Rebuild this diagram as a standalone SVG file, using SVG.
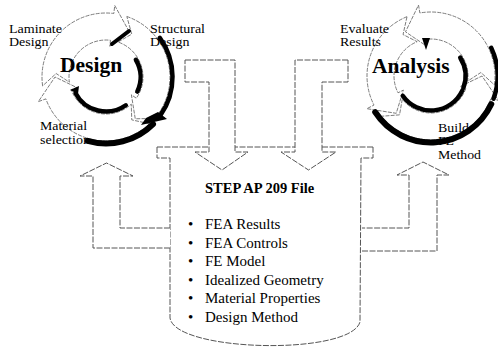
<svg xmlns="http://www.w3.org/2000/svg" width="498" height="349" viewBox="0 0 498 349">
<style>
.ring{fill:#fff;stroke:#666;stroke-width:0.85;stroke-dasharray:4 1.2}
.shade{fill:none;stroke:#000;stroke-linecap:round}
.blk{fill:#000}
.lbl{font-family:"Liberation Serif","Times New Roman",serif;font-size:12px;fill:#000}
.big{font-family:"Liberation Serif","Times New Roman",serif;font-weight:bold;font-size:21.5px;fill:#000}
.conn{fill:#fff;stroke:#555;stroke-width:1;stroke-dasharray:6 1.5}
.cyl{fill:none;stroke:#555;stroke-width:1;stroke-dasharray:6 1.5}
.ttl{font-family:"Liberation Serif","Times New Roman",serif;font-weight:bold;font-size:14.5px;fill:#000}
.item{font-family:"Liberation Serif","Times New Roman",serif;font-size:15px;fill:#000}
</style>
<rect width="498" height="349" fill="#fff"/>

<g id="step-file">
<path class="cyl" d="M157,147 L373,147 M157,147 L157,158 L170,158 L170,318 C175,352 350,356 360,322 L361,158 L373,158 L373,147"/>
<text class="ttl" x="205" y="193">STEP AP 209 File</text>
<g class="item">
<text x="188" y="229">•</text><text x="205" y="229">FEA Results</text>
<text x="188" y="247.5">•</text><text x="205" y="247.5">FEA Controls</text>
<text x="188" y="266">•</text><text x="205" y="266">FE Model</text>
<text x="188" y="284.5">•</text><text x="205" y="284.5">Idealized Geometry</text>
<text x="188" y="303">•</text><text x="205" y="303">Material Properties</text>
<text x="188" y="321.5">•</text><text x="205" y="321.5">Design Method</text>
</g>
</g>

<g id="connectors">
<path class="conn" d="M185,60 L235,60 L235,152 L248,152 L222,170 L195,152 L209,152 L209,82 L185,82 Z"/>
<path class="conn" d="M348,60 L295,60 L295,152 L281,152 L308.5,170 L336,152 L322,152 L322,82 L348,82 Z"/>
<path class="conn" d="M170,248 L93,248 L93,176 L80,176 L106.5,163 L133,176 L120,176 L120,228 L170,228"/>
<path class="conn" d="M362,251 L437,251 L437,175 L449,175 L423,162 L397,175 L409,175 L409,228 L362,228"/>
</g>

<g id="design-cycle">
<path class="ring" d="M149.65,123.81 A64,64 0 0 1 45.86,98.89 L38.34,101.62 L55,77 L76.87,87.60 L71.23,89.65 A37,37 0 0 0 131.23,104.06 L131.75,119.86 Z"/>
<path class="ring" d="M42.62,85.91 A64,64 0 0 1 113.80,13.48 L114.78,5.54 L129.15,31.56 L109.78,46.23 L110.51,40.28 A37,37 0 0 0 69.36,82.15 L56.12,73.51 Z"/>
<path class="ring" d="M126.84,16.49 A64,64 0 0 1 158.43,113.71 L164.98,118.30 L135.25,118.78 L131.40,94.78 L136.31,98.22 A37,37 0 0 0 118.05,42.02 L131.75,34.14 Z"/>
<text class="lbl" x="9" y="32.5" textLength="53" lengthAdjust="spacingAndGlyphs">Laminate</text>
<text class="lbl" x="9" y="46" textLength="39.5" lengthAdjust="spacingAndGlyphs">Design</text>
<text class="lbl" x="150" y="32.5" textLength="55" lengthAdjust="spacingAndGlyphs">Structural</text>
<text class="lbl" x="150" y="46" textLength="39.5" lengthAdjust="spacingAndGlyphs">Design</text>
<text class="lbl" x="40" y="130" textLength="47" lengthAdjust="spacingAndGlyphs">Material</text>
<text class="lbl" x="40" y="143.5" textLength="50" lengthAdjust="spacingAndGlyphs">selection</text>
<path class="shade" stroke-width="4.5" d="M159.80,37.91 A66.5,66.5 0 0 1 160.48,115.14"/>
<path class="shade" stroke-width="6" d="M153.02,124.02 A66.5,66.5 0 0 1 87.67,140.93"/>
<path class="shade" stroke-width="4.5" d="M135.88,59.75 A34.5,34.5 0 0 1 137.27,91.58"/>
<path class="shade" stroke-width="4.5" d="M125.79,105.26 A34.5,34.5 0 0 1 75.54,93.20"/>
<path class="shade" stroke-width="4" d="M112,44 L129,31"/>
<polygon class="blk" points="158,112 167,119 141,125 146,118"/>
<polygon class="blk" points="79,86 70,90 78,94"/>
<text class="big" x="60" y="72">Design</text>
</g>

<g id="analysis-cycle">
<path class="ring" d="M494.38,84.91 A64,64 0 0 0 419.89,12.97 L418.50,5.09 L405.5,31.83 L425.62,45.47 L424.58,39.56 A37,37 0 0 1 467.64,81.15 L480.88,72.51 Z"/>
<path class="ring" d="M407.03,16.66 A64,64 0 0 0 373.98,105.06 L366.85,108.69 L396.22,113.30 L403.38,90.07 L398.03,92.80 A37,37 0 0 1 417.14,41.69 L403.04,34.55 Z"/>
<path class="ring" d="M381.27,116.28 A64,64 0 0 0 491.14,97.89 L498.66,100.62 L482,76 L460.13,86.60 L465.77,88.65 A37,37 0 0 1 402.25,99.28 L399.53,114.86 Z"/>
<text class="lbl" x="340" y="32.5" textLength="49" lengthAdjust="spacingAndGlyphs">Evaluate</text>
<text class="lbl" x="340" y="46" textLength="41" lengthAdjust="spacingAndGlyphs">Results</text>
<text class="lbl" x="438" y="131.5" textLength="31" lengthAdjust="spacingAndGlyphs">Build</text>
<text class="lbl" x="438" y="145" textLength="16" lengthAdjust="spacingAndGlyphs">FE</text>
<text class="lbl" x="438" y="158.5" textLength="43" lengthAdjust="spacingAndGlyphs">Method</text>
<path class="shade" stroke-width="4.5" d="M491.27,47.90 A66.5,66.5 0 0 1 493.49,98.74"/>
<path class="shade" stroke-width="6" d="M491.27,104.10 A66.5,66.5 0 0 1 375.23,112.22"/>
<path class="shade" stroke-width="4.5" d="M460.26,57.72 A34.5,34.5 0 0 1 463.42,87.80"/>
<path class="shade" stroke-width="4.5" d="M462.27,90.58 A34.5,34.5 0 0 1 402.74,95.79"/>
<polygon class="blk" points="422,38 430,38 426,50"/>
<text class="big" x="372" y="73">Analysis</text>
</g>
</svg>
